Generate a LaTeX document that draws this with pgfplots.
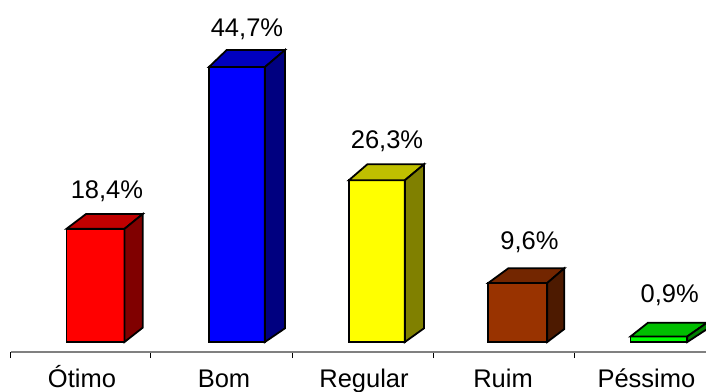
\documentclass[border=0pt]{standalone}
\usepackage{fontspec}
\setmainfont{Liberation Sans}
\usepackage{pgfplots}
\pgfplotsset{compat=1.18}
\definecolor{redf}{HTML}{FF0000}
\definecolor{redt}{HTML}{BF0000}
\definecolor{reds}{HTML}{800000}
\definecolor{bluef}{HTML}{0000FF}
\definecolor{bluet}{HTML}{0000BF}
\definecolor{blues}{HTML}{000080}
\definecolor{yelf}{HTML}{FFFF00}
\definecolor{yelt}{HTML}{BFBF00}
\definecolor{yels}{HTML}{808000}
\definecolor{brownf}{HTML}{993300}
\definecolor{brownt}{HTML}{732600}
\definecolor{browns}{HTML}{4D1A00}
\definecolor{greenf}{HTML}{00FF00}
\definecolor{greent}{HTML}{00BF00}
\definecolor{greens}{HTML}{008000}
\newcommand{\lab}{\fontsize{25.5bp}{28bp}\selectfont}
\begin{document}
\begin{tikzpicture}[x=1bp,y=1bp]
\path[use as bounding box] (0,0) rectangle (706,391);
\begin{axis}[
  at={(10.5bp,39bp)}, anchor=south west,
  scale only axis, width=695.5bp, height=352bp,
  xmin=0, xmax=4.9326, ymin=-1.626, ymax=55.61,
  axis x line*=bottom, axis y line=none,
  axis line style={draw=black!50, line width=1.2bp, -},
  xtick={0.507,1.514,2.507,3.493,4.51},
  xticklabels={Ótimo,Bom,Regular,Ruim,Péssimo},
  major tick length=0pt,
  minor xtick={0,0.993,2,3,4},
  minor tick length=6bp,
  every minor tick/.style={draw=black, line width=0.8bp},
  tick align=outside,
  xticklabel style={font=\lab, anchor=base, yshift=-35bp, text=black},
  clip=false,
]
% front faces
\addplot[ybar, bar width=58bp, bar shift=0pt, fill=redf, draw=black, line width=1.8bp] coordinates {(0.6028,18.4)};
\addplot[ybar, bar width=56bp, bar shift=0pt, fill=bluef, draw=black, line width=1.8bp] coordinates {(1.6054,44.7)};
\addplot[ybar, bar width=56bp, bar shift=0pt, fill=yelf, draw=black, line width=1.8bp] coordinates {(2.5983,26.3)};
\addplot[ybar, bar width=59bp, bar shift=0pt, fill=brownf, draw=black, line width=1.8bp] coordinates {(3.5976,9.6)};
\addplot[ybar, bar width=56.7bp, bar shift=0pt, fill=greenf, draw=black, line width=1.8bp] coordinates {(4.5987,0.9)};
% tops
\addplot[fill=redt, draw=black, line width=1.8bp] coordinates {(0.397,18.4)(0.8085,18.4)(0.9376,20.81)(0.5355,20.81)} --cycle;
\addplot[fill=bluet, draw=black, line width=1.8bp] coordinates {(1.4068,44.7)(1.804,44.7)(1.9468,47.48)(1.5333,47.48)} --cycle;
\addplot[fill=yelt, draw=black, line width=1.8bp] coordinates {(2.3997,26.3)(2.797,26.3)(2.9326,28.89)(2.5305,28.89)} --cycle;
\addplot[fill=brownt, draw=black, line width=1.8bp] coordinates {(3.3885,9.6)(3.8068,9.6)(3.9277,11.98)(3.5305,11.98)} --cycle;
\addplot[fill=greent, draw=black, line width=1.8bp] coordinates {(4.3976,0.9)(4.7997,0.9)(4.94,3.14)(4.5213,3.14)} --cycle;
% sides
\addplot[fill=reds, draw=black, line width=1.8bp] coordinates {(0.8085,0)(0.9376,2.33)(0.9376,20.81)(0.8085,18.4)} --cycle;
\addplot[fill=blues, draw=black, line width=1.8bp] coordinates {(1.804,0)(1.9468,2.23)(1.9468,47.48)(1.804,44.7)} --cycle;
\addplot[fill=yels, draw=black, line width=1.8bp] coordinates {(2.797,0)(2.9326,2.23)(2.9326,28.89)(2.797,26.3)} --cycle;
\addplot[fill=browns, draw=black, line width=1.8bp] coordinates {(3.8068,0)(3.9277,2.11)(3.9277,11.98)(3.8068,9.6)} --cycle;
\addplot[fill=greens, draw=black, line width=1.8bp] coordinates {(4.7997,0)(4.94,2.1)(4.94,3.14)(4.7997,0.9)} --cycle;
% value labels
\node[font=\lab, inner sep=0pt, anchor=base] at (axis cs:0.684,23.4) {18,4\%};
\node[font=\lab, inner sep=0pt, anchor=base] at (axis cs:1.677,49.75) {44,7\%};
\node[font=\lab, inner sep=0pt, anchor=base] at (axis cs:2.67,31.5) {26,3\%};
\node[font=\lab, inner sep=0pt, anchor=base] at (axis cs:3.68,15) {9,6\%};
\node[font=\lab, inner sep=0pt, anchor=base] at (axis cs:4.675,6.5) {0,9\%};
\end{axis}
\end{tikzpicture}
\end{document}
